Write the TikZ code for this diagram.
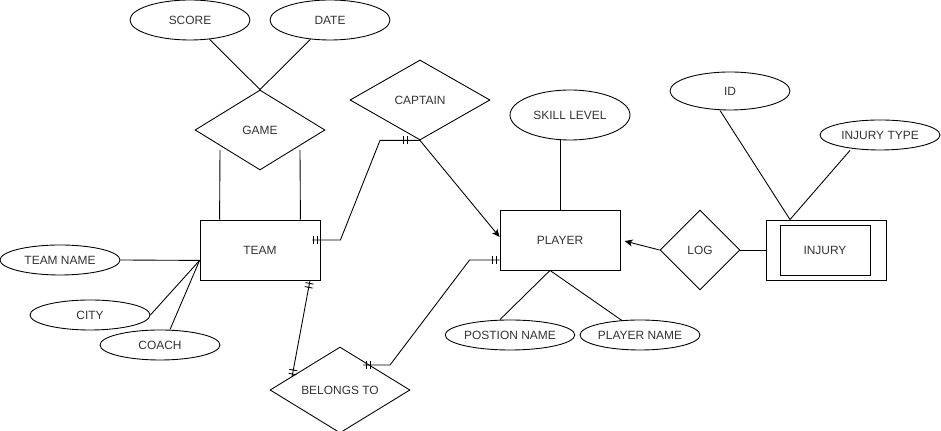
\documentclass[tikz,border=0pt]{standalone}
\usepackage{fontspec}
\setmainfont{Liberation Sans}
\usetikzlibrary{shapes.geometric,calc,decorations.markings,arrows.meta}
\tikzset{
  entity/.style={draw,rectangle,minimum width=2.4cm,minimum height=1.2cm,inner sep=0pt},
  attr/.style={draw,ellipse,minimum width=2.4cm,minimum height=#1,inner sep=0pt},
  attr/.default=0.6cm,
  rel/.style 2 args={draw,diamond,minimum width=#1,minimum height=#2,inner sep=0pt},
  mandone/.style 2 args={postaction={decorate,decoration={markings,
    mark=at position #1 with {\draw[-] (0,-2.3pt) -- (0,2.3pt);},
    mark=at position #1+2.3pt with {\draw[-] (0,-2.3pt) -- (0,2.3pt);},
    mark=at position -#2 with {\draw[-] (0,-2.3pt) -- (0,2.3pt);},
    mark=at position -#2-2.3pt with {\draw[-] (0,-2.3pt) -- (0,2.3pt);}}}},
}
\begin{document}
\begin{tikzpicture}[x=0.02cm,y=-0.02cm,line width=0.5pt,font=\fontsize{6.8}{8}\selectfont,text=black!80,
  >={Stealth[length=4.5pt,width=4pt,inset=1.2pt]}]
  \useasboundingbox (0,0) rectangle (941,431);
  \node[attr=0.8cm] (score) at (190,20) {SCORE};
  \node[attr=0.8cm] (date) at (330,20) {DATE};
  \node[rel={2.6cm}{1.6cm}] (game) at (260,130) {GAME};
  \node[entity] (team) at (260,250) {TEAM};
  \node[attr] (teamname) at (60,260) {TEAM NAME};
  \node[attr] (city) at (90,315) {CITY};
  \node[attr] (coach) at (160,345) {COACH};
  \node[rel={2.8cm}{1.6cm}] (captain) at (420,100) {CAPTAIN};
  \node[rel={2.8cm}{1.6cm}] (belongs) at (340,390) {BELONGS TO};
  \node[entity] (player) at (560,240) {PLAYER};
  \node[attr=1cm] (skill) at (570,115) {SKILL LEVEL};
  \node[attr] (posname) at (510,335) {POSTION NAME};
  \node[attr] (plname) at (640,335) {PLAYER NAME};
  \node[rel={1.6cm}{1.6cm}] (log) at (700,250) {LOG};
  \node[entity] (injury) at (826,250) {};
  \node[draw,minimum width=1.8cm,minimum height=1cm,inner sep=0pt] (injuryin) at (825,250) {INJURY};
  \node[attr=0.76cm] (id) at (730,91) {ID};
  \node[attr] (itype) at (880,135) {INJURY TYPE};

  \draw (game.north) -- (score);
  \draw (game.north) -- (date);
  \draw ($(game.center)+(-40,20)$) -- ($(team.north west)+(20,0)$);
  \draw ($(game.center)+(40,20)$) -- ($(team.north east)+(-20,0)$);
  \coordinate (tj) at ($(team.south west)+(0,-20)$);
  \draw (teamname.east) -- (tj);
  \draw (city.east) -- (tj);
  \draw ($(coach.north)+(10,0)$) -- (tj);

  \draw[mandone={0.6pt}{7.4pt}] ($(team.east)+(-8,-10)$) -- ++(28,0) -- ($(captain.south)+(-40,0)$) -- (captain.south);
  \draw[->] (captain.south) -- ($(player.west)+(0,-3)$);
  \draw[mandone={1.7pt}{1.7pt}] ($(team.south)+(50,0)$) -- ($(belongs.center)+(-48,-13)$);
  \draw[mandone={1.7pt}{1.7pt}] ($(belongs.center)+(23,-25)$) -- ++(27,0) -- ($(player.west)+(-30,20)$) -- ($(player.west)+(0,20)$);

  \draw (player.north) -- (player.north |- skill.south);
  \coordinate (pj) at ($(player.south)+(-10,0)$);
  \draw (pj) -- ($(posname.north)+(-10,0)$);
  \draw (pj) -- ($(plname.north)+(-18,1)$);

  \draw[->,shorten >=2.5pt] (log.west) -- (player.east);
  \draw (log.east) -- (injury.west);
  \coordinate (ij) at ($(injury.north)+(-36,0)$);
  \draw ($(id.south)+(-10,0)$) -- (ij);
  \draw ($(itype.south)+(-30,0)$) -- (ij);
\end{tikzpicture}
\end{document}
